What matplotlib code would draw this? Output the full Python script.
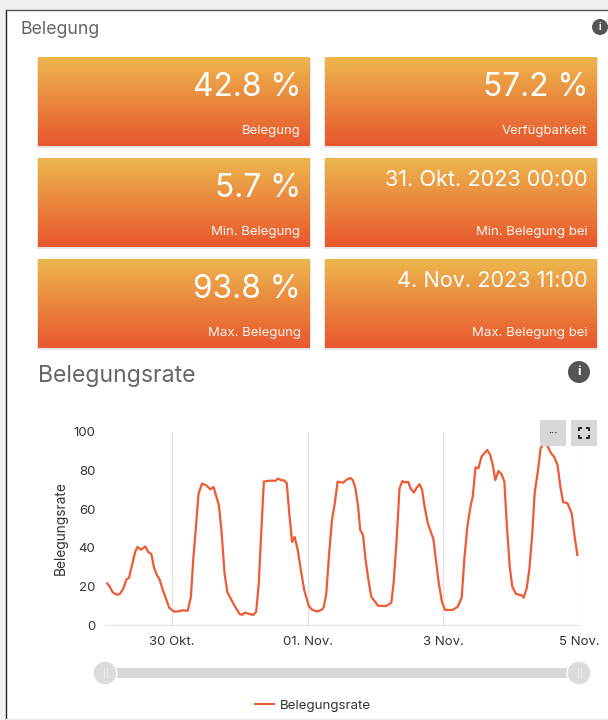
import numpy as np
import matplotlib
matplotlib.use("Agg")
import matplotlib.pyplot as plt
from matplotlib.patches import Rectangle, Circle
from matplotlib.colors import LinearSegmentedColormap

plt.rcParams['font.family'] = ['Inter', 'DejaVu Sans']

W, H = 608, 720

# ---- data ----
card_values = ["42.8 %", "57.2 %", "5.7 %", "31. Okt. 2023 00:00", "93.8 %", "4. Nov. 2023 11:00"]
card_labels = ["Belegung", "Verfügbarkeit", "Min. Belegung", "Min. Belegung bei", "Max. Belegung", "Max. Belegung bei"]
tick_hours = [0, 48, 96, 144]
tick_labels = ["30 Okt.", "01. Nov.", "3 Nov.", "5 Nov."]
y_ticks = [0, 20, 40, 60, 80, 100]
hours = [-22.9, -22, -21, -19.6, -18.5, -17.3, -16.1, -15.2, -14, -13, -12.2, -11, -9.4, -8.5, -7.3, -6.4, -5.4, -4.4,
         -3.2, -2, -1, 0.6, 2.1, 3.6, 5.6, 6.7, 7.5, 8.2, 9.4, 10.6, 12.1, 13.6, 14.7, 15.6, 16.6, 17.5, 18.6, 19.6,
         20.9, 22, 23.9, 24.8, 25.8, 27.4, 28.8, 29.8, 30.7, 31.5, 32.5, 34.5, 36.6, 37.5, 38.6, 39.6, 40.6, 41.5,
         42.5, 43.4, 44.5, 45.6, 46.8, 48.4, 49.5, 51.3, 52.9, 53.7, 54.6, 55.6, 56.6, 57.6, 58.6, 60.5, 62, 63.1,
         64, 64.9, 65.8, 66.6, 67.6, 68.5, 69.5, 70.5, 72.9, 75.8, 77.6, 78.4, 79.4, 80.5, 81.5, 82.3, 83.6, 84.4,
         85.6, 86.4, 87.6, 88.5, 89.3, 90.5, 92.5, 93.5, 94.4, 95.5, 96.6, 99.3, 101.1, 102.5, 103.5, 104.5, 105.6,
         106.4, 107.4, 108.4, 109.5, 111.5, 112.6, 113.5, 114.4, 115.5, 116.6, 117.6, 118.5, 119.5, 120.4, 121.7,
         123.7, 124.4, 125.5, 126.4, 127.4, 128.3, 129.5, 130.4, 131.4, 132.5, 133.5, 134.3, 135.2, 136.4, 137.4,
         138.4, 139.9, 141.4, 142.3, 143.4]
rate = [21.5, 19.8, 17, 15.7, 16, 18.6, 23.6, 24.5, 32, 38, 40.5, 39, 40.7, 38, 36.7, 30, 26, 23.6,
        18, 13, 9, 7, 7, 7.6, 7.4, 14.7, 33.6, 45.7, 68, 73.3, 72.4, 70.3, 71.5, 67, 62, 49, 26.7, 17,
        13.4, 10.3, 5.7, 5.3, 6.4, 5.7, 5.2, 7, 21.5, 45.7, 74.3, 74.8, 74.7, 75.9, 75, 75, 73.6, 57.8,
        43, 45.7, 38.8, 28.4, 18, 9.8, 8, 7, 7.8, 9.2, 16.4, 37, 54.4, 63, 74.3, 73.7, 75.5, 76.2,
        75, 70.8, 62, 49.2, 46.6, 33.7, 23.3, 14.7, 10, 9.8, 11.6, 21.6, 42.3, 70.8, 74.6, 73.9, 74.1, 70.8,
        68.6, 70.8, 73, 70, 62, 52.7, 44.4, 32, 21.6, 12, 7.8, 7.8, 9.5, 14.3, 35.4, 51, 61.3,
        66.5, 81.7, 81.2, 87.2, 90.7, 88, 82.9, 75.1, 79.8, 78.2, 74.3, 51, 30.2, 19.9, 16.1,
        15.4, 14.2, 19, 28.5, 45.8, 68.2, 80.3, 91.5, 93.8, 93.6, 90.7, 88.6, 87.2, 82.9, 71.7,
        63.6, 63.2, 57.9, 47.5, 36.3]

LINE = "#EE5A34"
GREY = "#666666"

fig = plt.figure(figsize=(W / 100, H / 100), dpi=100, facecolor="#f0f0f0")


def overlay(z):
    a = fig.add_axes([0, 0, 1, 1], zorder=z)
    a.set_xlim(0, W)
    a.set_ylim(H, 0)
    a.axis("off")
    a.patch.set_alpha(0)
    return a


bg = overlay(0)
top = overlay(2)

# page
bg.add_patch(Rectangle((6, 10), W, H, fc="white", ec="none"))
bg.plot([6, 6], [10, H], color="#222222", lw=1.0)
bg.plot([6, W], [10, 10], color="#555555", lw=1.0)
bg.plot([6, W], [718.5, 718.5], color="#eeeeee", lw=1.0)

# cards
cmap = LinearSegmentedColormap.from_list("card", ["#EDB64D", "#E8572E"])
grad = np.linspace(0, 1, 90).reshape(-1, 1)
col_x = [(38, 310), (325, 597)]
row_y = [(57, 146), (158, 247), (259, 348)]
for i, (val, lab) in enumerate(zip(card_values, card_labels)):
    x0, x1 = col_x[i % 2]
    y0, y1 = row_y[i // 2]
    bg.add_patch(Rectangle((x0 - 1, y0 + 1), x1 - x0 + 2, y1 - y0 + 1, fc="#e6e6e6", ec="none"))
    bg.imshow(grad, cmap=cmap, extent=(x0, x1, y1, y0), aspect="auto", zorder=2)
    long_val = len(val) > 8
    bg.text(x1 - 9, y0 + (20 if long_val else 27), val, color="white",
            fontsize=15.6 if long_val else 22.8, ha="right", va="center_baseline", zorder=3)
    bg.text(x1 - 9.5, y0 + 72.5, lab, color="#fff4ec", fontsize=9.5, ha="right", va="center_baseline", zorder=3)
bg.set_xlim(0, W)
bg.set_ylim(H, 0)

# headings
bg.text(21, 27.5, "Belegung", color=GREY, fontsize=12.8, va="center_baseline")
bg.text(38, 373.5, "Belegungsrate", color=GREY, fontsize=16.6, va="center_baseline")


def info(a, cx, cy, r, fs):
    a.add_patch(Circle((cx, cy), r, fc="#555555", ec="none"))
    a.text(cx, cy, "i", color="white", fontsize=fs, ha="center", va="center", fontweight="bold")


info(bg, 600, 27, 8, 7)
info(bg, 579, 372, 11, 9.5)

# chart
L, R, T, B = 105, 579, 432, 625
ax = fig.add_axes([L / W, 1 - B / H, (R - L) / W, (B - T) / H], zorder=1)
ax.patch.set_alpha(0)
ax.plot(hours, rate, color=LINE, lw=1.6, label="Belegungsrate", solid_joinstyle="round")
ax.set_xlim(-23.7, 144)
ax.set_ylim(0, 100)
ax.set_xticks(tick_hours)
ax.set_xticklabels(tick_labels)
ax.set_yticks(y_ticks)
ax.grid(axis="x", color="#e3e3e3", lw=1)
ax.set_axisbelow(True)
for s in ("top", "left", "right"):
    ax.spines[s].set_visible(False)
ax.spines["bottom"].set_color("#e3e3e3")
ax.tick_params(axis="both", length=0, labelsize=9.5, labelcolor="#333333")
ax.tick_params(axis="x", pad=8)
ax.tick_params(axis="y", pad=7)
ax.set_ylabel("Belegungsrate", fontsize=9.9, color="#333333", labelpad=4)

# toolbar buttons
for bx in (540, 571):
    top.add_patch(Rectangle((bx, 420), 26, 26, fc="#d8d8d8", ec="none"))
top.text(553, 432.5, "···", color="#444444", fontsize=7, ha="center", va="center", fontweight="bold")
cx, cy, d, l = 584, 433, 5, 3
for sx in (-1, 1):
    for sy in (-1, 1):
        px, py = cx + sx * d, cy + sy * d
        top.plot([px - sx * l, px, px], [py, py, py - sy * l], color="#222222", lw=1.4, solid_capstyle="butt")

# range slider
top.add_patch(Rectangle((105, 668), 474, 10, fc="#d8d8d8", ec="none"))
for hx in (105, 579):
    top.add_patch(Circle((hx, 673), 12, fc="#dcdcdc", ec="white", lw=1))
    for off in (-1.5, 1.5):
        top.plot([hx + off, hx + off], [668, 678], color="#ececec", lw=0.8)

# legend
top.plot([255, 274], [704, 704], color=LINE, lw=1.5)
top.text(280, 704, "Belegungsrate", color="#333333", fontsize=9.6, va="center_baseline")

fig.savefig("out.png", dpi=100, facecolor=fig.get_facecolor())
